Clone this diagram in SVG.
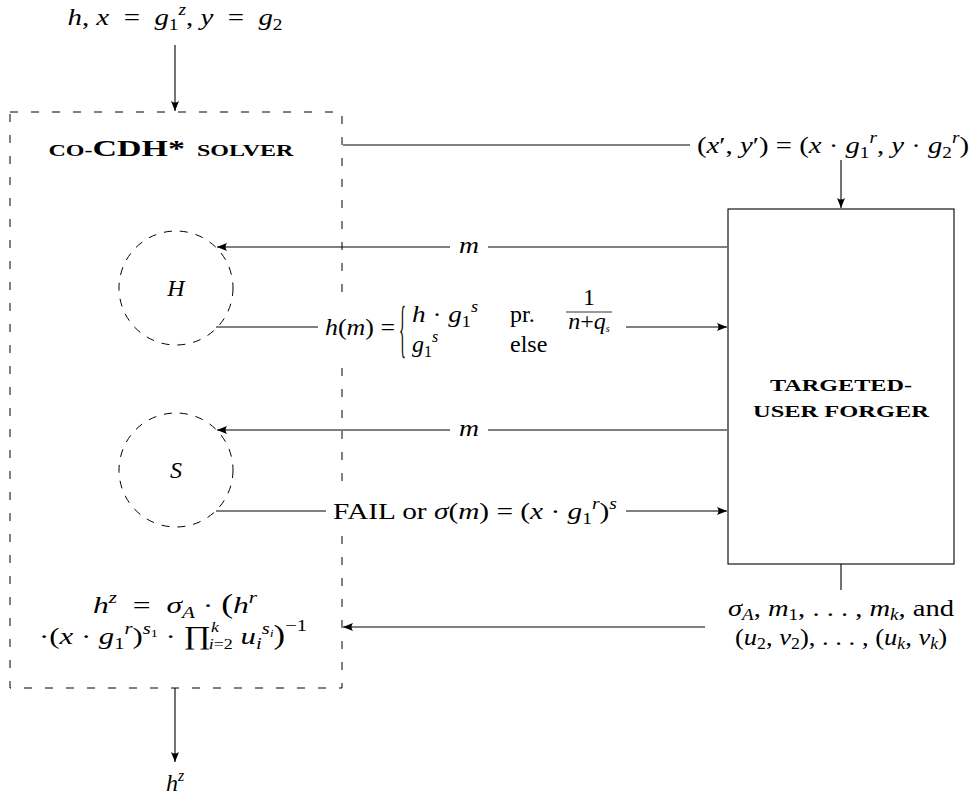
<svg xmlns="http://www.w3.org/2000/svg" width="974" height="799" viewBox="0 0 974 799">
<style>
.m{font-family:"Liberation Serif","DejaVu Serif",serif;font-size:24px;fill:#000}
.i{font-style:italic}
.s{font-size:16px}
.t{font-family:"Liberation Serif","DejaVu Serif",serif;font-weight:bold;fill:#000}
.ln{stroke:#000;stroke-width:1.1;fill:none}
.dash{stroke:#000;stroke-width:1;fill:none;stroke-dasharray:8 13}
.bg{fill:#fff}
</style>
<defs>
<marker id="ah" viewBox="0 0 10 8" refX="10" refY="4" markerWidth="10" markerHeight="8" orient="auto" markerUnits="userSpaceOnUse">
<path d="M0,0 Q3,4 0,8 L10,4 z" fill="#000"/>
</marker>
</defs>

<g id="solver">
<rect class="dash" x="10" y="112" width="332" height="576"/>
<text class="t" x="171" y="156" text-anchor="middle" textLength="245" lengthAdjust="spacingAndGlyphs"><tspan font-size="17">CO-</tspan><tspan font-size="24">CDH*</tspan><tspan font-size="17">&#8194;SOLVER</tspan></text>
</g>

<g id="H">
<circle class="dash" cx="176" cy="288" r="57" style="stroke-dasharray:8 8"/>
<text class="m i" x="176" y="296" text-anchor="middle">H</text>
</g>

<g id="S">
<circle class="dash" cx="176" cy="470" r="57" style="stroke-dasharray:8 8"/>
<text class="m i" x="176" y="478" text-anchor="middle">S</text>
</g>

<g id="forger">
<rect class="ln" x="728" y="209" width="226" height="355"/>
<text class="t" x="841" y="391" text-anchor="middle" font-size="17" textLength="142" lengthAdjust="spacingAndGlyphs">TARGETED-</text>
<text class="t" x="841" y="417" text-anchor="middle" font-size="17" textLength="176" lengthAdjust="spacingAndGlyphs">USER FORGER</text>
</g>

<g id="connectors">
<path class="ln" d="M175,45 V111" marker-end="url(#ah)"/>
<path class="ln" d="M343,145 H690"/>
<path class="ln" d="M841,160 V208" marker-end="url(#ah)"/>
<path class="ln" d="M727,247 H217" marker-end="url(#ah)"/>
<path class="ln" d="M216,327 H727" marker-end="url(#ah)"/>
<path class="ln" d="M727,430 H217" marker-end="url(#ah)"/>
<path class="ln" d="M216,511 H727" marker-end="url(#ah)"/>
<path class="ln" d="M841,564 V590"/>
<path class="ln" d="M705,627 H343" marker-end="url(#ah)"/>
<path class="ln" d="M175,688 V762" marker-end="url(#ah)"/>
</g>

<g id="labels">
<text class="m" x="175" y="25" text-anchor="middle" textLength="215" lengthAdjust="spacingAndGlyphs"><tspan class="i">h</tspan>, <tspan class="i">x</tspan>&#8194;=&#8194;<tspan class="i">g</tspan><tspan class="s" dy="5">1</tspan><tspan class="s i" dy="-15">z</tspan><tspan dy="10">, </tspan><tspan class="i">y</tspan>&#8194;=&#8194;<tspan class="i">g</tspan><tspan class="s" dy="5">2</tspan></text>

<text class="m" x="833" y="153" text-anchor="middle" textLength="272" lengthAdjust="spacingAndGlyphs">(<tspan class="i">x</tspan>′, <tspan class="i">y</tspan>′) = (<tspan class="i">x</tspan> · <tspan class="i">g</tspan><tspan class="s" dy="5">1</tspan><tspan class="s i" dy="-15">r</tspan><tspan dy="10">, </tspan><tspan class="i">y</tspan> · <tspan class="i">g</tspan><tspan class="s" dy="5">2</tspan><tspan class="s i" dy="-15">r</tspan><tspan dy="10">)</tspan></text>

<rect class="bg" x="450" y="235" width="38" height="24"/>
<text class="m i" x="469" y="253" text-anchor="middle" textLength="20" lengthAdjust="spacingAndGlyphs">m</text>

<rect class="bg" x="318" y="298" width="308" height="64"/>
<text class="m" x="325" y="335" textLength="70" lengthAdjust="spacingAndGlyphs"><tspan class="i">h</tspan>(<tspan class="i">m</tspan>) =</text>
<text class="m" transform="translate(399,350) scale(0.6,2.6)" font-size="32">{</text>
<text class="m" x="412" y="322" textLength="66" lengthAdjust="spacingAndGlyphs"><tspan class="i">h</tspan> · <tspan class="i">g</tspan><tspan class="s" dy="5">1</tspan><tspan class="s i" dy="-15">s</tspan></text>
<text class="m" x="510" y="322">pr.</text>
<text class="m" x="589" y="305" text-anchor="middle" font-size="14">1</text>
<line x1="566" y1="312" x2="612" y2="312" stroke="#000" stroke-width="0.8"/>
<text class="m" x="589" y="329" text-anchor="middle" font-size="14"><tspan class="i">n</tspan>+<tspan class="i">q</tspan><tspan font-size="10" class="i" dy="3">s</tspan></text>
<text class="m" x="412" y="352"><tspan class="i">g</tspan><tspan class="s" dy="5">1</tspan><tspan class="s i" dy="-15">s</tspan></text>
<text class="m" x="510" y="352">else</text>

<rect class="bg" x="450" y="418" width="38" height="24"/>
<text class="m i" x="469" y="436" text-anchor="middle" textLength="20" lengthAdjust="spacingAndGlyphs">m</text>

<rect class="bg" x="326" y="494" width="300" height="32"/>
<text class="m" x="475" y="519" text-anchor="middle" textLength="284" lengthAdjust="spacingAndGlyphs">FAIL or <tspan class="i">σ</tspan>(<tspan class="i">m</tspan>) = (<tspan class="i">x</tspan> · <tspan class="i">g</tspan><tspan class="s" dy="5">1</tspan><tspan class="s i" dy="-15">r</tspan><tspan dy="10">)</tspan><tspan class="s i" dy="-10">s</tspan></text>

<text class="m" x="841" y="616" text-anchor="middle" textLength="226" lengthAdjust="spacingAndGlyphs"><tspan class="i">σ</tspan><tspan class="s i" dy="4">A</tspan><tspan dy="-4">, </tspan><tspan class="i">m</tspan><tspan class="s" dy="4">1</tspan><tspan dy="-4">, . . . , </tspan><tspan class="i">m</tspan><tspan class="s i" dy="4">k</tspan><tspan dy="-4">, and</tspan></text>
<text class="m" x="841" y="645" text-anchor="middle" textLength="212" lengthAdjust="spacingAndGlyphs">(<tspan class="i">u</tspan><tspan class="s" dy="4">2</tspan><tspan dy="-4">, </tspan><tspan class="i">v</tspan><tspan class="s" dy="4">2</tspan><tspan dy="-4">), . . . , (</tspan><tspan class="i">u</tspan><tspan class="s i" dy="4">k</tspan><tspan dy="-4">, </tspan><tspan class="i">v</tspan><tspan class="s i" dy="4">k</tspan><tspan dy="-4">)</tspan></text>

<text class="m" x="175" y="613" text-anchor="middle" textLength="164" lengthAdjust="spacingAndGlyphs"><tspan class="i">h</tspan><tspan class="s i" dy="-10">z</tspan><tspan dy="10">&#8194;=&#8194;</tspan><tspan class="i">σ</tspan><tspan class="s i" dy="5">A</tspan><tspan dy="-5"> · </tspan><tspan font-size="27">(</tspan><tspan class="i">h</tspan><tspan class="s i" dy="-10">r</tspan></text>
<text class="m" x="173" y="644" text-anchor="middle" textLength="268" lengthAdjust="spacingAndGlyphs">·(<tspan class="i">x</tspan> · <tspan class="i">g</tspan><tspan class="s" dy="5">1</tspan><tspan class="s i" dy="-15">r</tspan><tspan dy="10">)</tspan><tspan class="s i" dy="-10">s</tspan><tspan font-size="11" dy="3">1</tspan><tspan dy="7"> · </tspan><tspan font-size="26">∏</tspan><tspan font-size="14" class="i" dy="-12">k</tspan><tspan font-size="14" class="i" dx="-8" dy="17">i</tspan><tspan font-size="14">=2</tspan><tspan class="i" dy="-5"> u</tspan><tspan class="s i" dy="5">i</tspan><tspan class="s i" dy="-15">s</tspan><tspan font-size="11" class="i" dy="3">i</tspan><tspan font-size="27" dy="7">)</tspan><tspan class="s" dy="-13">−1</tspan></text>

<text class="m" x="175" y="791" text-anchor="middle"><tspan class="i">h</tspan><tspan class="s i" dy="-10">z</tspan></text>
</g>
</svg>
